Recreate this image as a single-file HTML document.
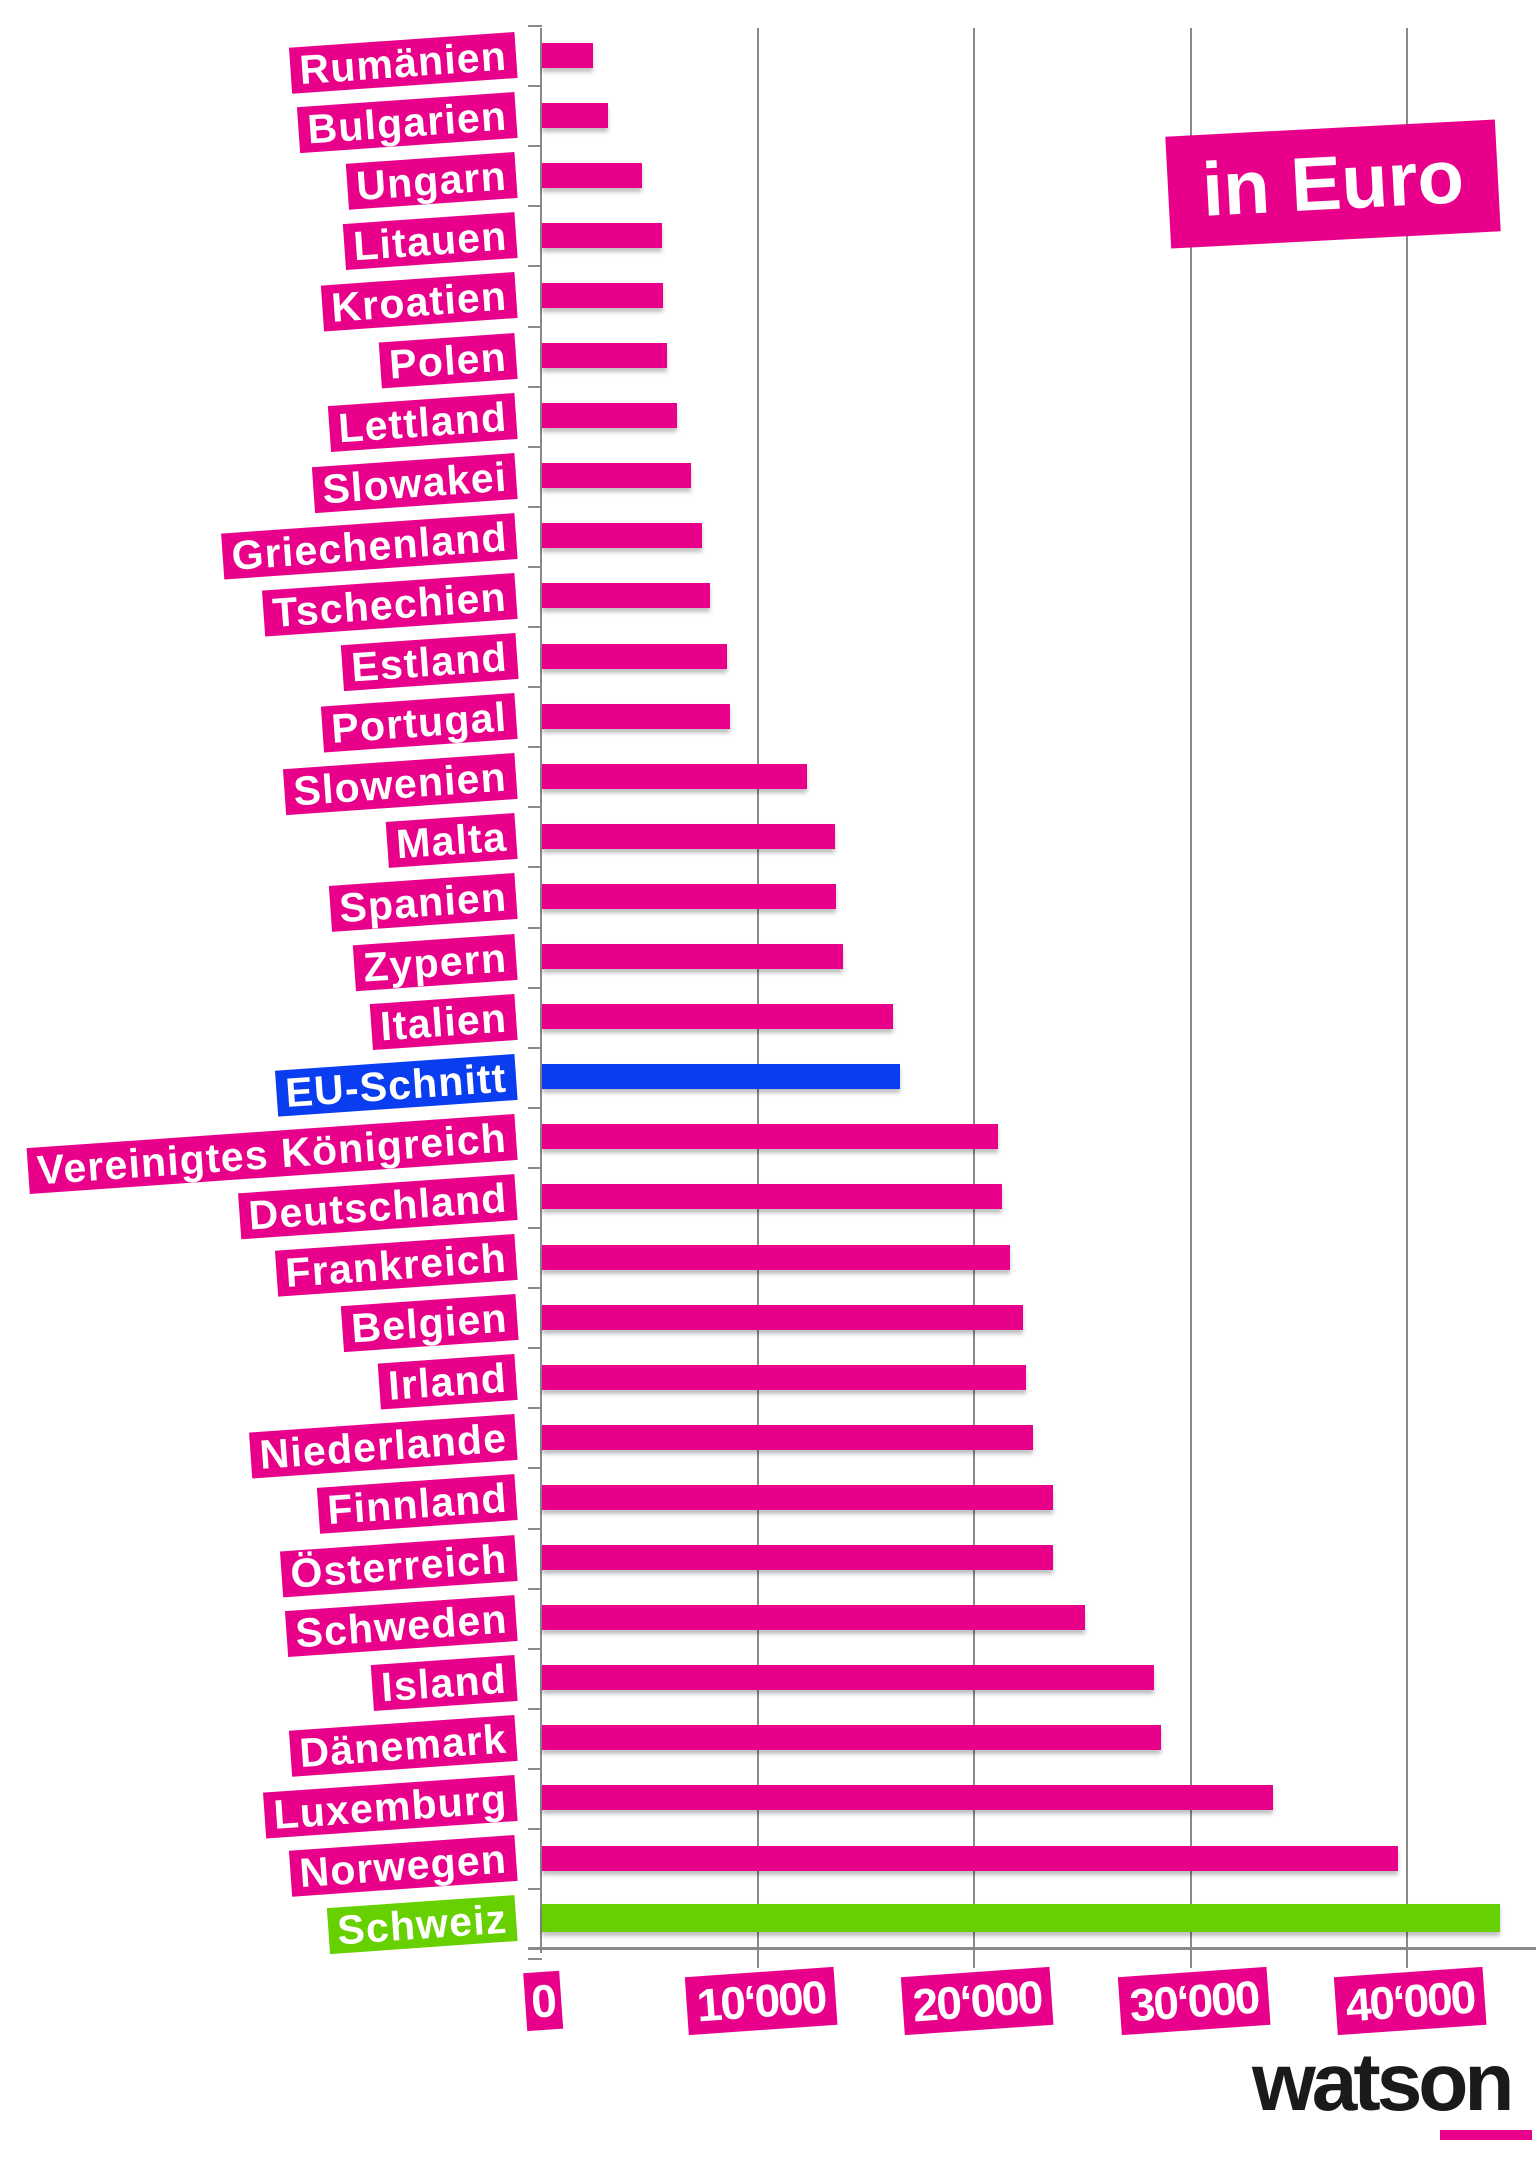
<!DOCTYPE html>
<html><head><meta charset="utf-8"><style>
body{margin:0;width:1536px;height:2159px;background:#fff;position:relative;overflow:hidden;font-family:"Liberation Sans",sans-serif}
.g{position:absolute;top:28px;height:1940px;width:2px;background:#8a8a8a}
.bar{position:absolute;left:542px;height:25px;background:#e8008a;box-shadow:0 4px 4px rgba(0,0,0,.25)}
.lb{position:absolute;right:1020px;height:46px;line-height:46px;padding:0 9px;background:#e8008a;color:#fff;font-weight:bold;font-size:41px;letter-spacing:1.2px;transform:rotate(-4deg);transform-origin:right center;white-space:nowrap}
.tk{position:absolute;left:528px;width:14px;height:2px;background:#8a8a8a}
.tl{position:absolute;top:1972px;height:58px;line-height:58px;padding:0 10px;background:#e8008a;color:#fff;font-weight:bold;font-size:46px;transform:translateX(-50%) rotate(-4deg);letter-spacing:-2px}
</style></head><body>
<div class="g" style="left:540px;height:1925px"></div>
<div class="g" style="left:757px"></div>
<div class="g" style="left:973px"></div>
<div class="g" style="left:1190px"></div>
<div class="g" style="left:1406px"></div>
<div style="position:absolute;left:528px;top:1947px;width:1008px;height:3px;background:#8a8a8a"></div>
<div id="c"></div>
<div style="position:absolute;left:1168px;top:128px;width:330px;height:112px;background:#e8008a;color:#fff;font-weight:bold;font-size:76px;line-height:112px;text-align:center;transform:rotate(-3deg)">in Euro</div>
<div class="tl" style="left:543px;padding:0 6px">0</div>
<div class="tl" style="left:761px">10‘000</div>
<div class="tl" style="left:977px">20‘000</div>
<div class="tl" style="left:1194px">30‘000</div>
<div class="tl" style="left:1410px">40‘000</div>
<div style="position:absolute;left:1252px;top:2036px;font-size:82px;font-weight:bold;color:#1a1a1a;letter-spacing:-4px">watson</div>
<div style="position:absolute;left:1440px;top:2130px;width:92px;height:10px;background:#e8008a"></div>
<script>
var d=[["Rumänien",431],["Bulgarien",442],["Ungarn",467],["Litauen",481],["Kroatien",482],["Polen",485],["Lettland",492],["Slowakei",502],["Griechenland",510],["Tschechien",516],["Estland",528],["Portugal",530],["Slowenien",586],["Malta",606],["Spanien",607],["Zypern",612],["Italien",648],["EU-Schnitt",653],["Vereinigtes Königreich",724],["Deutschland",727],["Frankreich",733],["Belgien",742],["Irland",744],["Niederlande",749],["Finnland",764],["Österreich",764],["Schweden",787],["Island",837],["Dänemark",842],["Luxemburg",923],["Norwegen",1013],["Schweiz",1087]];
var h="";
d.forEach(function(r,i){var y=55+i*60.1;var col=r[0]=="EU-Schnitt"?"#0a3cf0":(r[0]=="Schweiz"?"#66d000":"#e8008a");
var w=r[1]*1.384-546;var bh=r[0]=="Schweiz"?28:25;
h+='<div class="bar" style="top:'+(y-bh/2)+'px;width:'+w+'px;height:'+bh+'px;background:'+col+'"></div>';
h+='<div class="lb" style="top:'+(y-23)+'px;background:'+col+'">'+r[0]+'</div>';
h+='<div class="tk" style="top:'+(y-30)+'px"></div>';});
h+='<div class="tk" style="top:1958px"></div>';
document.getElementById("c").innerHTML=h;
</script>
</body></html>
